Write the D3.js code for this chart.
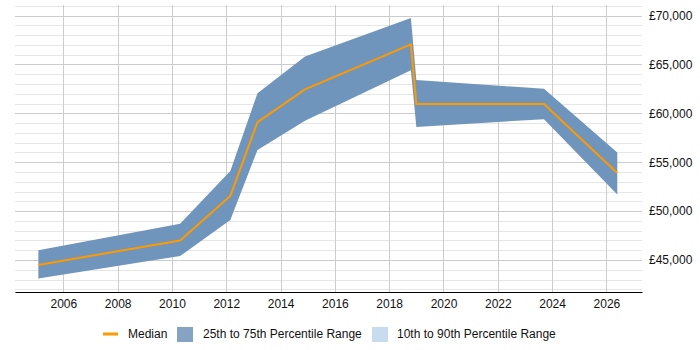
<!DOCTYPE html>
<html><head><meta charset="utf-8">
<script src="https://cdn.jsdelivr.net/npm/d3@7"></script>
<style>body{margin:0;background:#fff;font-family:"Liberation Sans",Arial,sans-serif;}</style>
</head><body><svg id="c" width="700" height="350"></svg>
<script>
const years  = [2005.08, 2010.3, 2012.15, 2013.15, 2014.9, 2018.8, 2019.0, 2023.7, 2026.4];
const median = [44500, 47000, 51550, 59100, 62450, 67050, 60950, 60950, 53900];
const p25    = [43100, 45400, 49100, 56250, 59250, 64400, 58600, 59400, 51700];
const p75    = [46000, 48700, 54100, 62050, 65800, 69750, 63400, 62500, 56000];
const xTicks = [2006, 2008, 2010, 2012, 2014, 2016, 2018, 2020, 2022, 2024, 2026];
const yTicks = [45000, 50000, 55000, 60000, 65000, 70000];
const legendLabels = ["Median", "25th to 75th Percentile Range", "10th to 90th Percentile Range"];

const svg = d3.select("#c");
const L = 15, R = 642, T = 5, B = 292;
const x = d3.scaleLinear().domain([2004.22, 2027.31]).range([L, R]);
const y = d3.scaleLinear().domain([45000, 70000]).range([260, 15.5]);

const minor = d3.range(42000, 71001, 1000).filter(v => v % 5000 !== 0);
svg.append("g").selectAll("line").data(minor).join("line")
  .attr("x1", L).attr("x2", R).attr("y1", d => Math.round(y(d)) + 0.5).attr("y2", d => Math.round(y(d)) + 0.5)
  .attr("stroke", "#e6e6e6").attr("stroke-width", 1);
svg.append("g").selectAll("line").data(yTicks).join("line")
  .attr("x1", L).attr("x2", R).attr("y1", d => Math.round(y(d)) + 0.5).attr("y2", d => Math.round(y(d)) + 0.5)
  .attr("stroke", "#cccccc").attr("stroke-width", 1);
svg.append("g").selectAll("line").data(xTicks).join("line")
  .attr("x1", d => Math.round(x(d)) + 0.5).attr("x2", d => Math.round(x(d)) + 0.5).attr("y1", T).attr("y2", B)
  .attr("stroke", "#cccccc").attr("stroke-width", 1);

const data = years.map((yr, i) => ({yr, m: median[i], lo: p25[i], hi: p75[i]}));

svg.append("path").datum(data)
  .attr("d", d3.area().x(d => x(d.yr)).y0(d => y(d.lo)).y1(d => y(d.hi)))
  .attr("fill", "#7095bc");

svg.append("path").datum(data)
  .attr("d", d3.line().x(d => x(d.yr)).y(d => y(d.m)))
  .attr("fill", "none").attr("stroke", "#ff9900").attr("stroke-width", 2);

const xa = svg.append("g").attr("transform", `translate(0,${B})`)
  .call(d3.axisBottom(x).tickValues(xTicks).tickFormat(d3.format("d")).tickSize(0).tickPadding(7));
xa.select(".domain").attr("stroke", "#000").attr("stroke-width", 1.2);
xa.selectAll("text").attr("font-size", 12).attr("font-family", "Liberation Sans, Arial, sans-serif").attr("fill", "#111");

const ya = svg.append("g").attr("transform", `translate(${R},0)`)
  .call(d3.axisRight(y).tickValues(yTicks).tickFormat(d => "£" + d3.format(",")(d)).tickSize(0).tickPadding(7));
ya.select(".domain").remove();
ya.selectAll("text").attr("font-size", 12).attr("font-family", "Liberation Sans, Arial, sans-serif").attr("fill", "#111");

const lg = svg.append("g").attr("font-size", 12).attr("font-family", "Liberation Sans, Arial, sans-serif").attr("fill", "#111");
lg.append("line").attr("x1", 103).attr("x2", 118).attr("y1", 334).attr("y2", 334).attr("stroke", "#ff9900").attr("stroke-width", 3);
lg.append("text").attr("x", 128).attr("y", 338).text(legendLabels[0]);
lg.append("rect").attr("x", 177).attr("y", 327).attr("width", 16).attr("height", 15).attr("fill", "#86a3c4");
lg.append("text").attr("x", 203).attr("y", 338).text(legendLabels[1]);
lg.append("rect").attr("x", 372).attr("y", 327).attr("width", 16).attr("height", 15).attr("fill", "#c9dbee");
lg.append("text").attr("x", 397).attr("y", 338).text(legendLabels[2]);
</script></body></html>
